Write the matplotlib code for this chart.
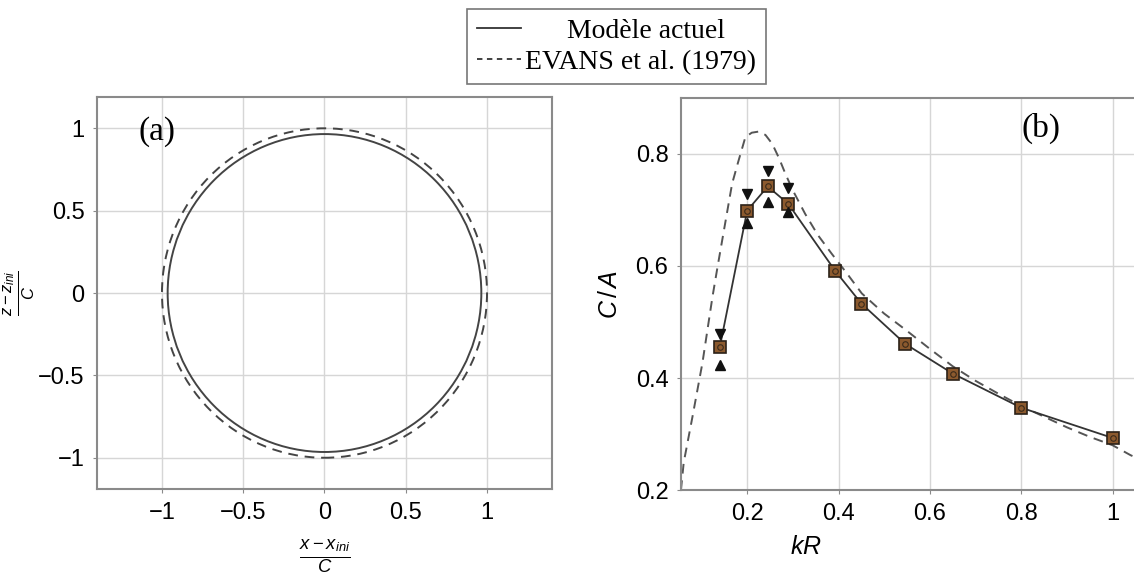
#!/usr/bin/env python
import numpy as np
import matplotlib
matplotlib.use('Agg')
import matplotlib.pyplot as plt
from matplotlib.patches import Circle
from matplotlib.lines import Line2D

# (a) free surface contour, radius of the two circles
R_MODEL = 0.965
R_EVANS = 1.0

# (b) C/A versus kR
kr_model = [0.14, 0.2, 0.245, 0.29, 0.393, 0.45, 0.546, 0.65, 0.8, 1.0]
ca_model = [0.455, 0.699, 0.742, 0.711, 0.591, 0.533, 0.461, 0.408, 0.347, 0.293]
kr_bars = [0.14, 0.2, 0.245, 0.29]
ca_max = [0.479, 0.729, 0.769, 0.739]
ca_min = [0.424, 0.677, 0.714, 0.696]

kr_evans = [0.055, 0.061, 0.08, 0.102, 0.124, 0.135, 0.15, 0.167, 0.18, 0.196,
            0.21, 0.225, 0.24, 0.255, 0.27, 0.284, 0.3, 0.327, 0.355, 0.385,
            0.42, 0.451, 0.5, 0.547, 0.6, 0.65, 0.7, 0.75, 0.8, 0.85, 0.9,
            0.95, 1.0, 1.04, 1.06]
ca_evans = [0.20, 0.249, 0.33, 0.427, 0.545, 0.598, 0.668, 0.747, 0.785, 0.83,
            0.838, 0.840, 0.834, 0.818, 0.792, 0.764, 0.735, 0.693, 0.655, 0.622,
            0.585, 0.551, 0.515, 0.486, 0.452, 0.421, 0.395, 0.372, 0.35, 0.331,
            0.312, 0.295, 0.28, 0.262, 0.255]

plt.rcParams['font.family'] = ['Liberation Sans', 'DejaVu Sans']
plt.rcParams['mathtext.fontset'] = 'custom'
plt.rcParams['mathtext.rm'] = 'Liberation Sans'
plt.rcParams['mathtext.it'] = 'Liberation Sans:italic'

SPINE = '#8a8a8a'
GRID = '#d6d6d6'
DASH = (0, (5, 3.5))


def style(ax):
    for s in ax.spines.values():
        s.set_color(SPINE)
        s.set_linewidth(1.5)
    ax.grid(True, color=GRID, lw=1.0)
    ax.set_axisbelow(True)
    ax.tick_params(labelsize=17, length=3, color=SPINE, pad=6)


fig = plt.figure(figsize=(11.34, 5.74), dpi=100)
ax1 = fig.add_axes([0.0855, 0.148, 0.4013, 0.683])
ax2 = fig.add_axes([0.6005, 0.1463, 0.4015, 0.683])

# --- (a)
style(ax1)
ax1.add_patch(Circle((0, 0), R_EVANS, fill=False, color='#444444', lw=1.4, ls=DASH))
ax1.add_patch(Circle((0, 0), R_MODEL, fill=False, color='#444444', lw=1.4))
ax1.set_xlim(-1.4, 1.4)
ax1.set_ylim(-1.19, 1.19)
ax1.set_xticks([-1, -0.5, 0, 0.5, 1])
ax1.set_xticklabels(['\u22121', '\u22120.5', '0', '0.5', '1'])
ax1.set_yticks([-1, -0.5, 0, 0.5, 1])
ax1.set_yticklabels(['\u22121', '\u22120.5', '0', '0.5', '1'])
ax1.set_xlabel(r'$\frac{x-x_{ini}}{C}$', fontsize=19, labelpad=10)
ax1.set_ylabel(r'$\frac{z-z_{ini}}{C}$', fontsize=17, labelpad=1)
ax1.text(0.132, 0.911, '(a)', transform=ax1.transAxes, ha='center', va='center',
         fontsize=24, family='Liberation Serif')

# --- (b)
style(ax2)
ax2.plot(kr_evans, ca_evans, color='#555555', lw=1.4, ls=DASH)
ax2.plot(kr_model, ca_model, color='#333333', lw=1.3)
ax2.plot(kr_model, ca_model, ls='none', marker='s', ms=8.5,
         mfc='#8c5a2e', mec='#2b2118', mew=1.2)
ax2.plot(kr_model, ca_model, ls='none', marker='o', ms=4,
         mfc='none', mec='#3a2a1a', mew=0.8)
ax2.plot(kr_bars, ca_max, ls='none', marker='v', ms=6.5, color='#111111')
ax2.plot(kr_bars, ca_min, ls='none', marker='^', ms=6.5, color='#111111')
ax2.set_xlim(0.055, 1.052)
ax2.set_ylim(0.2, 0.9)
ax2.set_xticks([0.2, 0.4, 0.6, 0.8, 1.0])
ax2.set_xticklabels(['0.2', '0.4', '0.6', '0.8', '1'])
ax2.set_yticks([0.2, 0.4, 0.6, 0.8])
ax2.set_xlabel(r'$kR$', fontsize=18)
ax2.xaxis.set_label_coords(0.274, -0.115)
ax2.set_ylabel(r'$C\,/\,A$', fontsize=18, labelpad=10)
ax2.text(0.79, 0.923, '(b)', transform=ax2.transAxes, ha='center', va='center',
         fontsize=24, family='Liberation Serif')

handles = [Line2D([], [], color='#333333', lw=1.3),
           Line2D([], [], color='#333333', lw=1.3, ls=(0, (3, 2.5)))]
leg = fig.legend(handles, ['      Mod\u00e8le actuel', 'EVANS et al. (1979)'],
                 loc='upper center', bbox_to_anchor=(0.5435, 0.985),
                 prop={'family': 'Liberation Serif', 'size': 20},
                 frameon=True, fancybox=False, edgecolor='#555555',
                 handlelength=1.6, handletextpad=0.15, labelspacing=0.2,
                 borderpad=0.35, borderaxespad=0)
leg.get_frame().set_linewidth(1.2)

plt.savefig('out.png', dpi=100)
